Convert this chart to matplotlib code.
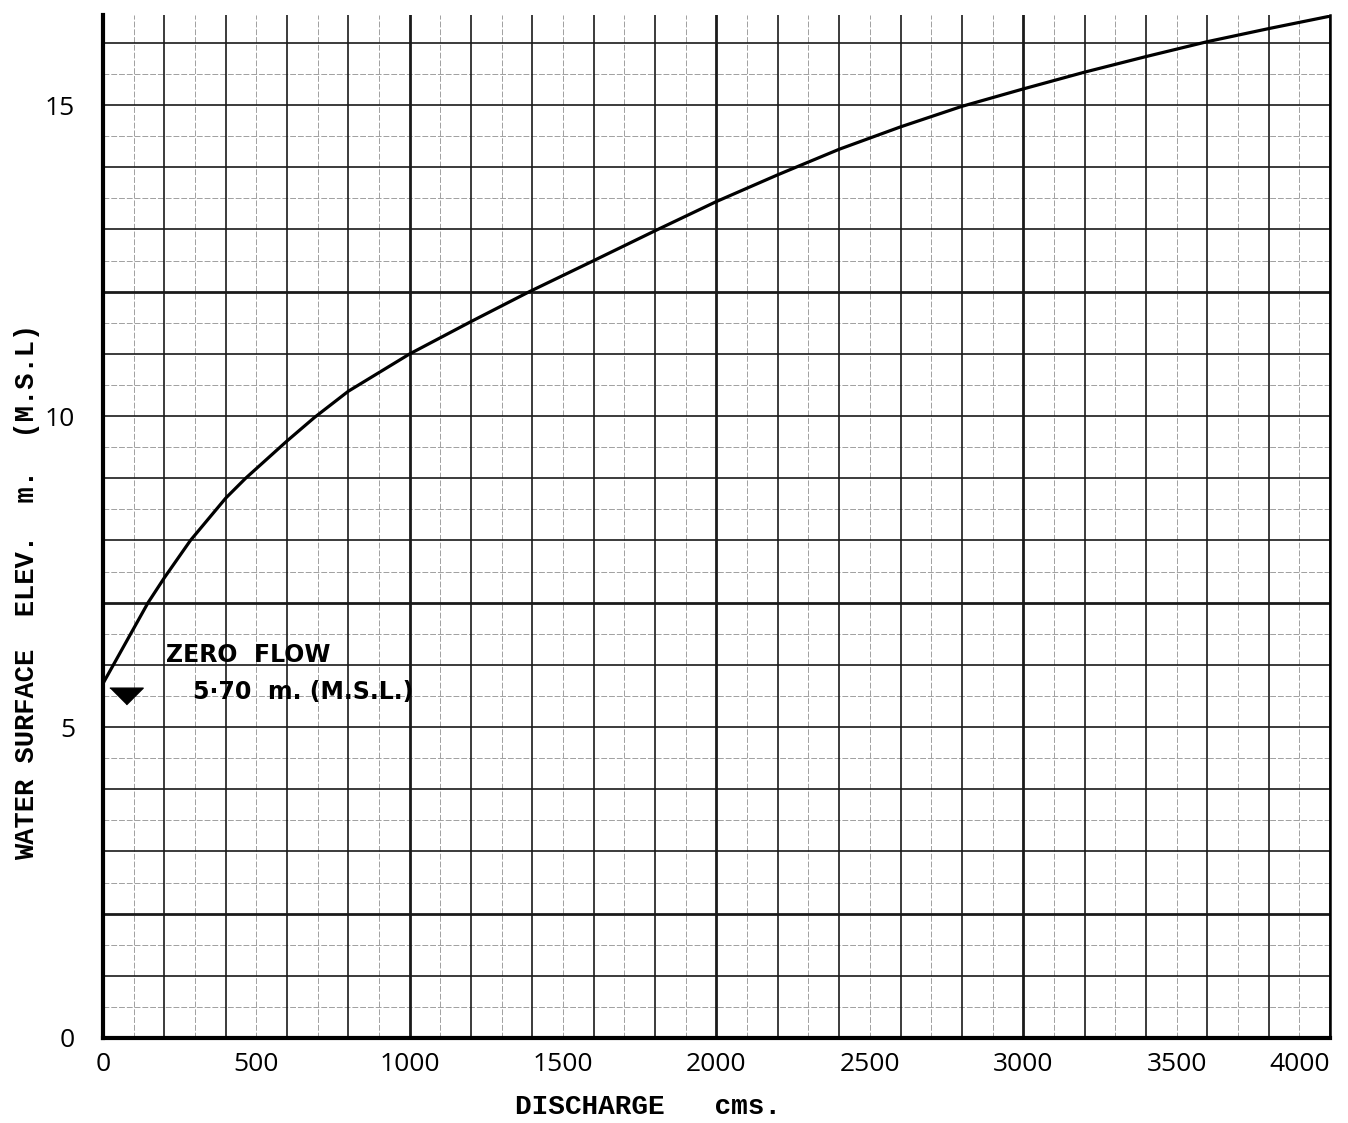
import numpy as np
import matplotlib.pyplot as plt

# rating curve
discharge = [0, 147, 200, 285, 400, 465, 600, 690, 800, 1000, 1200, 1390,
             1600, 1800, 2000, 2200, 2400, 2600, 2800, 3000, 3200, 3400, 3600,
             3800, 4000]
elevation = [5.70, 7.0, 7.4, 8.0, 8.68, 9.0, 9.6, 9.98, 10.4, 11.0, 11.52,
             12.0, 12.5, 12.98, 13.45, 13.88, 14.29, 14.65, 14.98, 15.26,
             15.53, 15.78, 16.02, 16.23, 16.43]

xticks = [0, 500, 1000, 1500, 2000, 2500, 3000, 3500, 4000]
yticks = [0, 5, 10, 15]
zero_flow = 5.70

fig = plt.figure(figsize=(13.48, 11.23), dpi=100)
ax = fig.add_axes([0.0764, 0.0757, 0.9102, 0.911])
ax.set_xlim(0, 4000)
ax.set_ylim(0, 16.45)

# graph paper
for xv in np.arange(100, 4000, 200):
    ax.axvline(xv, color='#a0a0a0', lw=0.7, ls=(0, (6, 2)), zorder=1)
for xv in np.arange(200, 4001, 200):
    lw = 2.0 if xv % 1000 == 0 and xv < 4000 else 1.2
    ax.axvline(xv, color='#1a1a1a', lw=lw, zorder=2)
for yv in np.arange(0.5, 16.5, 1.0):
    ax.axhline(yv, color='#a0a0a0', lw=0.7, ls=(0, (6, 2)), zorder=1)
for yv in np.arange(1, 17, 1):
    lw = 2.0 if yv in (2, 7, 12) else 1.2
    ax.axhline(yv, color='#1a1a1a', lw=lw, zorder=2)

ax.plot(discharge, elevation, color='black', lw=2.3, zorder=4,
        solid_joinstyle='round')

# zero flow water level sign
ax.plot([75], [zero_flow - 0.2], marker=[(-1, 0.5), (1, 0.5), (0, -0.5)],
        ms=24, color='black', zorder=5, clip_on=False)
ax.text(205, 6.16, 'ZERO  FLOW', fontsize=17, fontweight='bold',
        family='DejaVu Sans', va='center', ha='left', zorder=6)
ax.text(292, 5.56, '5·70  m. (M.S.L.)', fontsize=17, fontweight='bold',
        family='DejaVu Sans', va='center', ha='left', zorder=6)

ax.spines['top'].set_visible(False)
ax.spines['left'].set_linewidth(3)
ax.spines['bottom'].set_linewidth(3)
ax.spines['right'].set_linewidth(1.8)

ax.set_xticks(xticks)
ax.set_yticks(yticks)
ax.tick_params(length=0, labelsize=19)
ax.tick_params(axis='x', pad=10)
ax.tick_params(axis='y', pad=20)
for lab in ax.get_xticklabels() + ax.get_yticklabels():
    lab.set_family('Open Sans')
ax.get_xticklabels()[-1].set_ha('right')

ax.set_xlabel('DISCHARGE   cms.', fontsize=20, family='Liberation Mono',
              fontweight='bold')
ax.xaxis.set_label_coords(0.444, -0.055)
ax.set_ylabel('WATER SURFACE  ELEV.  m.  (M.S.L)', fontsize=19.5,
              family='Liberation Mono', fontweight='bold')
ax.yaxis.set_label_coords(-0.051, 0.436)

fig.savefig('out.png', dpi=100)
